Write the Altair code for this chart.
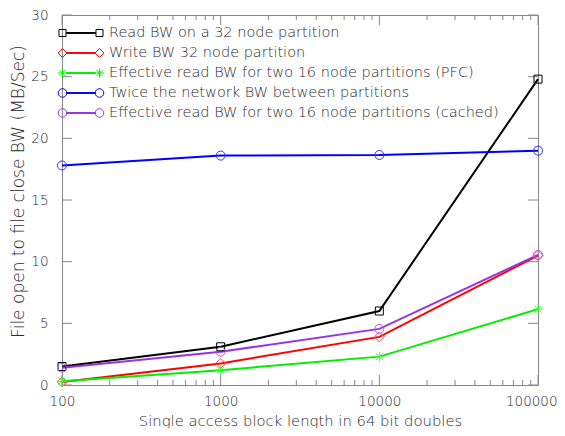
import altair as alt
import pandas as pd

# ---- data ----
block_len = [100, 1000, 10000, 100000]
series_names = [
    "Read BW on a 32 node partition",
    "Write BW 32 node partition",
    "Effective read BW for two 16 node partitions (PFC)",
    "Twice the network BW between partitions",
    "Effective read BW for two 16 node partitions (cached)",
]
read32 = [1.5, 3.1, 6.0, 24.8]
write32 = [0.25, 1.75, 3.9, 10.5]
pfc16 = [0.3, 1.2, 2.3, 6.15]
netbw = [17.8, 18.6, 18.65, 19.0]
cached16 = [1.4, 2.7, 4.55, 10.55]

x_major = [100, 1000, 10000, 100000]
x_minor = [200, 300, 400, 500, 600, 700, 800, 900,
           2000, 3000, 4000, 5000, 6000, 7000, 8000, 9000,
           20000, 30000, 40000, 50000, 60000, 70000, 80000, 90000]
y_ticks = [0, 5, 10, 15, 20, 25, 30]

rows = []
for name, vals in zip(series_names, [read32, write32, pfc16, netbw, cached16]):
    for i, (xv, yv) in enumerate(zip(block_len, vals)):
        rows.append({"series": name, "x": xv, "y": yv, "i": i})
df = pd.DataFrame(rows)
df_xmaj = pd.DataFrame({"x": x_major})
df_xmin = pd.DataFrame({"x": x_minor})
df_y = pd.DataFrame({"y": y_ticks})

W, H = 476, 370
FONT = "DejaVu Sans"
TXT = "#2a2a2a"
FRAME = "#888888"
FW = 200

line_colors = ["#000000", "#ff0000", "#00ee00", "#0000ff", "#9933dd"]
marker_colors = ["#000000", "#ff5555", "#33ff33", "#3333ff", "#aa55ee"]

# plot marker shapes (unit box -1..1)
sq = "M-0.8,-0.8H0.8V0.8H-0.8Z"
dia = "M0,-1L1,0L0,1L-1,0Z"
ast = "M-1,0H1M0,-1V1M-0.7,-0.7L0.7,0.7M-0.7,0.7L0.7,-0.7"
circ = "M-0.9,0A0.9,0.9 0 1,0 0.9,0A0.9,0.9 0 1,0 -0.9,0Z"
plot_shapes = [sq, dia, ast, circ, circ]


def f(v):
    return f"{v:.3f}"


def legend_path(kind):
    c = 1.947
    m = 0.42
    t = 0.05
    parts = [f"M{f(-c + m)},{f(-t)}H{f(c - m)}V{f(t)}H{f(-c + m)}Z"]
    for cx in (-c, c):
        if kind == "sq":
            s = 0.37
            parts.append(f"M{f(cx - s)},{f(-s)}H{f(cx + s)}V{f(s)}H{f(cx - s)}Z")
        elif kind == "dia":
            s = 0.47
            parts.append(f"M{f(cx)},{f(-s)}L{f(cx + s)},0L{f(cx)},{f(s)}L{f(cx - s)},0Z")
        elif kind == "ast":
            s = 0.47
            d = 0.33
            parts.append(f"M{f(cx - s)},0H{f(cx + s)}M{f(cx)},{f(-s)}V{f(s)}"
                         f"M{f(cx - d)},{f(-d)}L{f(cx + d)},{f(d)}M{f(cx - d)},{f(d)}L{f(cx + d)},{f(-d)}")
        else:
            r = 0.45
            parts.append(f"M{f(cx - r)},0A{f(r)},{f(r)} 0 1,0 {f(cx + r)},0A{f(r)},{f(r)} 0 1,0 {f(cx - r)},0Z")
    return "".join(parts)


legend_shapes = [legend_path(k) for k in ["sq", "dia", "ast", "circ", "circ"]]

xscale = alt.Scale(type="log", domain=[100, 100000], nice=False)
yscale = alt.Scale(domain=[0, 30], nice=False, zero=False)

last_label = "datum.value == 100000"
x_axis = alt.Axis(values=x_major, format="d", ticks=False, domain=False, grid=False,
                  labelPadding=9, labelFont=FONT, labelFontSize=13.5, labelColor=TXT,
                  labelFontWeight=FW, labelOverlap=False, labelFlush=False,
                  labelAlign={"condition": {"test": last_label, "value": "right"}, "value": "center"},
                  labelOffset={"condition": {"test": last_label, "value": 19}, "value": 0},
                  title="Single access block length in 64 bit doubles",
                  titleFont=FONT, titleFontSize=14.8, titleFontWeight=FW, titleColor=TXT,
                  titleY=40, titleBaseline="alphabetic")
y_axis = alt.Axis(values=y_ticks, ticks=False, domain=False, grid=False,
                  labelPadding=14, labelFont=FONT, labelFontSize=13.5, labelColor=TXT,
                  labelFontWeight=FW, labelOverlap=False,
                  title="File open to file close BW (MB/Sec)",
                  titleFont=FONT, titleFontSize=17, titleFontWeight=FW, titleColor=TXT,
                  titleX=-44, titleY=176, titleAngle=270, titleBaseline="middle", titleAlign="center")

X = alt.X("x:Q", scale=xscale, axis=x_axis)
Y = alt.Y("y:Q", scale=yscale, axis=y_axis)

lines = alt.Chart(df).mark_line(strokeWidth=2).encode(
    x=X, y=Y,
    color=alt.Color("series:N", scale=alt.Scale(domain=series_names, range=line_colors), legend=None),
    order="i:Q",
)

points = alt.Chart(df).mark_point(filled=False, size=100, strokeWidth=1, opacity=1).encode(
    x=X, y=Y,
    color=alt.Color("series:N", scale=alt.Scale(domain=series_names, range=marker_colors), legend=None),
    shape=alt.Shape("series:N", scale=alt.Scale(domain=series_names, range=plot_shapes), legend=None),
)

leg = alt.Legend(title=None, orient="none", legendX=9, legendY=8, symbolSize=361,
                 symbolStrokeWidth=1, labelOffset=18, labelFont=FONT, labelFontSize=14.5,
                 labelFontWeight=FW,
                 labelColor=TXT, labelLimit=500, rowPadding=3, padding=0, symbolFillColor="transparent")

legend_layer = alt.Chart(df).transform_filter("false").mark_point(filled=False, strokeWidth=1, opacity=1).encode(
    x=X, y=Y,
    color=alt.Color("series:N", scale=alt.Scale(domain=series_names, range=line_colors), legend=leg),
    shape=alt.Shape("series:N", scale=alt.Scale(domain=series_names, range=legend_shapes), legend=leg),
)

tick_col = FRAME
xmaj_bot = alt.Chart(df_xmaj).mark_rule(color=tick_col, strokeWidth=1).encode(
    x=X, y=alt.value(H), y2=alt.value(H - 10))
xmaj_top = alt.Chart(df_xmaj).mark_rule(color=tick_col, strokeWidth=1).encode(
    x=X, y=alt.value(0), y2=alt.value(10))
xmin_bot = alt.Chart(df_xmin).mark_rule(color=tick_col, strokeWidth=1).encode(
    x=X, y=alt.value(H), y2=alt.value(H - 5))
xmin_top = alt.Chart(df_xmin).mark_rule(color=tick_col, strokeWidth=1).encode(
    x=X, y=alt.value(0), y2=alt.value(5))
y_left = alt.Chart(df_y).mark_rule(color=tick_col, strokeWidth=1).encode(
    y=Y, x=alt.value(0), x2=alt.value(10))
y_right = alt.Chart(df_y).mark_rule(color=tick_col, strokeWidth=1).encode(
    y=Y, x=alt.value(W), x2=alt.value(W - 10))

chart = alt.layer(
    xmaj_bot, xmaj_top, xmin_bot, xmin_top, y_left, y_right,
    lines, points, legend_layer,
).resolve_scale(
    color="independent", shape="independent"
).properties(
    width=W, height=H,
    autosize=alt.AutoSizeParams(type="none"),
    padding={"left": 54, "top": 7, "right": 19, "bottom": 43},
    background="white",
).configure_view(
    stroke=FRAME, strokeWidth=1
)

chart.save("out.html", embed_options={"renderer": "svg", "actions": False})
